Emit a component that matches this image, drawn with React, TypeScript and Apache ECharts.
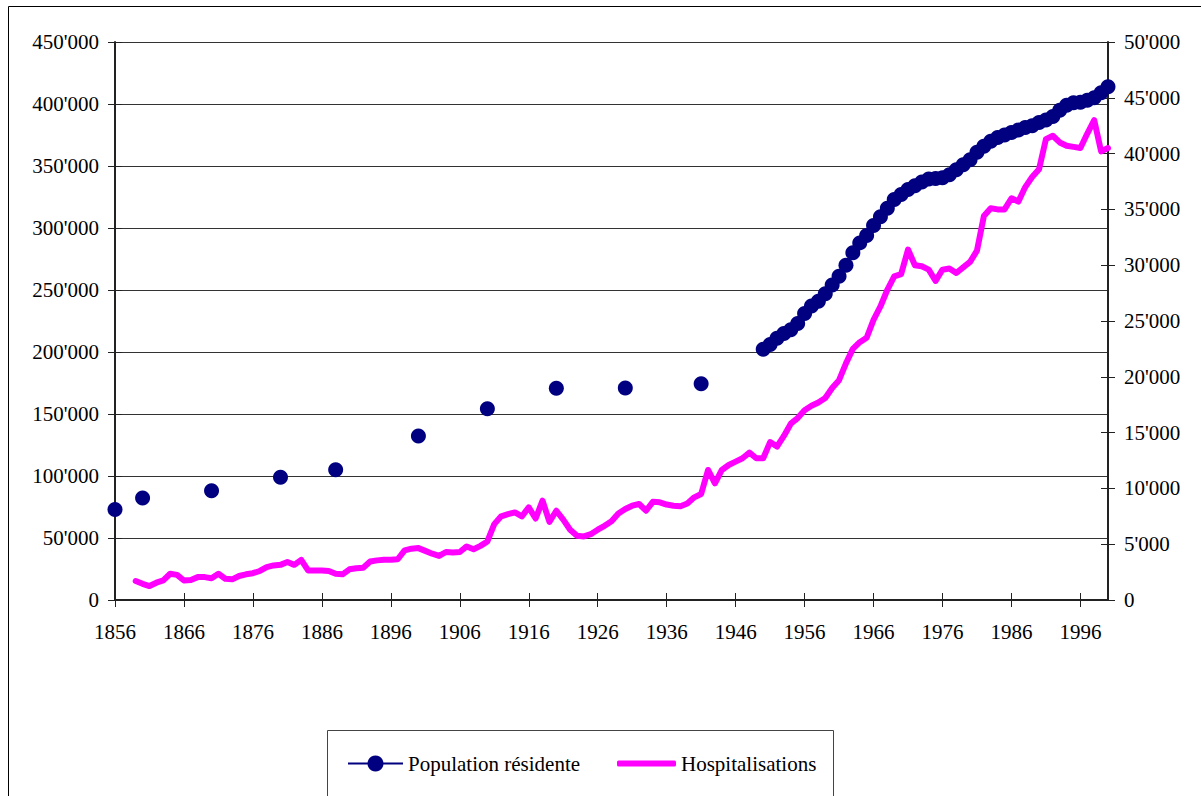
import React, { useEffect, useRef } from "react";
import * as echarts from "echarts";

const firstYear = 1856;
const lastYear = 2000;

// Population résidente (census points, then annual from 1950)
const popYears = [
  1856, 1860, 1870, 1880, 1888, 1900, 1910, 1920, 1930, 1941,
  1950, 1951, 1952, 1953, 1954, 1955, 1956, 1957, 1958, 1959,
  1960, 1961, 1962, 1963, 1964, 1965, 1966, 1967, 1968, 1969,
  1970, 1971, 1972, 1973, 1974, 1975, 1976, 1977, 1978, 1979,
  1980, 1981, 1982, 1983, 1984, 1985, 1986, 1987, 1988, 1989,
  1990, 1991, 1992, 1993, 1994, 1995, 1996, 1997, 1998, 1999, 2000,
];
const popValues = [
  73000, 82300, 88200, 99000, 105100, 132300, 154300, 170700, 171000, 174400,
  202200, 206000, 211000, 215000, 218000, 223000, 231000, 237000, 241000, 247000,
  254000, 261000, 270000, 280000, 288000, 294000, 302000, 309000, 316000, 323000,
  327000, 331000, 334000, 337000, 339500, 340000, 340500, 343000, 347000, 351000,
  355000, 361000, 366000, 370000, 373000, 375000, 377000, 379000, 381000, 382500,
  385000, 387000, 390000, 395000, 399000, 401000, 401500, 403000, 405000, 409000, 414000,
];

// Hospitalisations, annual from 1859 to 2000
const hospStartYear = 1859;
const hospValues = [
  1700, 1450, 1250, 1550, 1750, 2350, 2250, 1750, 1800, 2050,
  2050, 1950, 2350, 1900, 1850, 2150, 2300, 2400, 2600, 2950,
  3100, 3150, 3400, 3150, 3600, 2650, 2650, 2650,
  2600, 2350, 2300, 2750, 2850, 2900, 3450, 3550, 3600, 3600,
  3650, 4450, 4600, 4650, 4400, 4150, 3950, 4300, 4250, 4300,
  4800, 4550, 4850, 5250, 6800, 7500, 7700, 7850, 7500, 8300,
  7300, 8900, 7000, 8000,
  7200, 6300, 5750, 5700, 5900, 6300, 6650, 7050, 7750, 8150,
  8450, 8600, 8000, 8800, 8750, 8550, 8450, 8400, 8650, 9200,
  9500, 11650, 10450, 11650, 12100, 12400, 12700, 13200, 12700, 12700,
  14150, 13750, 14700, 15800, 16300, 17000, 17400, 17700, 18100, 19000,
  19700, 21200, 22500, 23100, 23500, 25100, 26300, 27800, 29000, 29200,
  31400, 30000, 29900, 29600, 28600, 29600, 29700, 29300, 29800, 30300,
  31300, 34400, 35100, 35000, 35000, 36000, 35700, 37000, 37900, 38600,
  41300, 41600, 41000, 40700, 40600, 40500, 41800, 43000, 40200, 40500,
];

const leftMax = 450000;
const leftStep = 50000;
const rightMax = 50000;
const rightStep = 5000;

const FONT = "'Liberation Serif', 'Times New Roman', serif";
const FS = 21;

function fmt(v: number): string {
  return String(v).replace(/\B(?=(\d{3})+(?!\d))/g, "'");
}

export default function App() {
  const ref = useRef<HTMLDivElement>(null);

  useEffect(() => {
    if (!ref.current) return;
    const chart = echarts.init(ref.current, undefined, { renderer: "svg" });

    const years: string[] = [];
    for (let y = firstYear; y <= lastYear; y++) years.push(String(y));

    const popData: (number | null)[] = years.map(() => null);
    popYears.forEach((y, i) => {
      popData[y - firstYear] = popValues[i];
    });
    const hospData: (number | null)[] = years.map(() => null);
    hospValues.forEach((v, i) => {
      hospData[hospStartYear - firstYear + i] = v;
    });

    const axisColor = "#222";
    const labelStyle = { color: "#000", fontSize: FS, fontFamily: FONT };

    chart.setOption({
      animation: false,
      textStyle: { fontFamily: FONT, fontSize: FS },
      grid: { left: 115, right: 93, top: 42, bottom: 196, containLabel: false },
      xAxis: [
        {
          type: "category",
          data: years,
          boundaryGap: false,
          position: "bottom",
          axisLine: { show: true, lineStyle: { color: axisColor, width: 2 } },
          axisTick: { show: true, interval: 9, length: 7, lineStyle: { color: axisColor, width: 1 } },
          axisLabel: { interval: 9, margin: 21, ...labelStyle },
          splitLine: { show: false },
        },
        {
          type: "category",
          data: years,
          boundaryGap: false,
          position: "bottom",
          axisLine: { show: false },
          axisTick: { show: true, inside: true, interval: 9, length: 7, lineStyle: { color: axisColor, width: 1 } },
          axisLabel: { show: false },
          splitLine: { show: false },
        },
      ],
      yAxis: [
        {
          type: "value",
          min: 0,
          max: leftMax,
          interval: leftStep,
          position: "left",
          axisLine: { show: true, lineStyle: { color: axisColor, width: 2 } },
          axisTick: { show: true, length: 7, lineStyle: { color: axisColor, width: 1 } },
          axisLabel: { margin: 16, formatter: (v: number) => fmt(v), ...labelStyle },
          splitLine: { show: true, lineStyle: { color: "#333", width: 1 } },
        },
        {
          type: "value",
          min: 0,
          max: rightMax,
          interval: rightStep,
          position: "right",
          axisLine: { show: true, lineStyle: { color: axisColor, width: 2 } },
          axisTick: { show: true, length: 7, lineStyle: { color: axisColor, width: 1 } },
          axisLabel: { margin: 16, formatter: (v: number) => fmt(v), ...labelStyle },
          splitLine: { show: false },
        },
        {
          type: "value",
          min: 0,
          max: leftMax,
          interval: leftStep,
          position: "left",
          axisLine: { show: false },
          axisTick: { show: true, inside: true, length: 7, lineStyle: { color: axisColor, width: 1 } },
          axisLabel: { show: false },
          splitLine: { show: false },
        },
        {
          type: "value",
          min: 0,
          max: rightMax,
          interval: rightStep,
          position: "right",
          axisLine: { show: false },
          axisTick: { show: true, inside: true, length: 7, lineStyle: { color: axisColor, width: 1 } },
          axisLabel: { show: false },
          splitLine: { show: false },
        },
      ],
      legend: [
        {
          data: ["Population résidente"],
          left: 342,
          top: 748,
          padding: 5,
          itemWidth: 55,
          itemHeight: 20,
          itemGap: 0,
          selectedMode: false,
          textStyle: { color: "#000", fontSize: FS, fontFamily: FONT, lineHeight: 20 },
        },
        {
          data: [{ name: "Hospitalisations", icon: "roundRect" }],
          left: 612,
          top: 748,
          padding: 5,
          itemWidth: 59,
          itemHeight: 6,
          itemGap: 0,
          selectedMode: false,
          textStyle: { color: "#000", fontSize: FS, fontFamily: FONT, lineHeight: 20 },
        },
      ],
      graphic: [
        {
          type: "rect",
          silent: true,
          z: -1,
          shape: { x: 8.5, y: 6.5, width: 1200, height: 820 },
          style: { fill: "none", stroke: "#000", lineWidth: 1 },
        },
        {
          type: "rect",
          silent: true,
          z: -1,
          shape: { x: 327.5, y: 730.5, width: 506, height: 100 },
          style: { fill: "#fff", stroke: "#444", lineWidth: 1 },
        },
      ],
      series: [
        {
          name: "Population résidente",
          type: "line",
          xAxisIndex: 0,
          yAxisIndex: 0,
          data: popData,
          connectNulls: false,
          symbol: "circle",
          symbolSize: 15,
          showSymbol: true,
          showAllSymbol: true,
          color: "#000080",
          itemStyle: { color: "#000080" },
          lineStyle: { color: "#000080", width: 2 },
          z: 3,
        },
        {
          name: "Hospitalisations",
          type: "line",
          xAxisIndex: 0,
          yAxisIndex: 1,
          data: hospData,
          connectNulls: false,
          symbol: "none",
          showSymbol: false,
          color: "#FF00FF",
          itemStyle: { color: "#FF00FF" },
          lineStyle: { color: "#FF00FF", width: 6, cap: "round", join: "round" },
          z: 2,
        },
      ],
    });

    return () => chart.dispose();
  }, []);

  return (
    <div
      ref={ref}
      style={{ position: "fixed", left: 0, top: 0, width: 1201, height: 796, background: "#fff" }}
    />
  );
}
